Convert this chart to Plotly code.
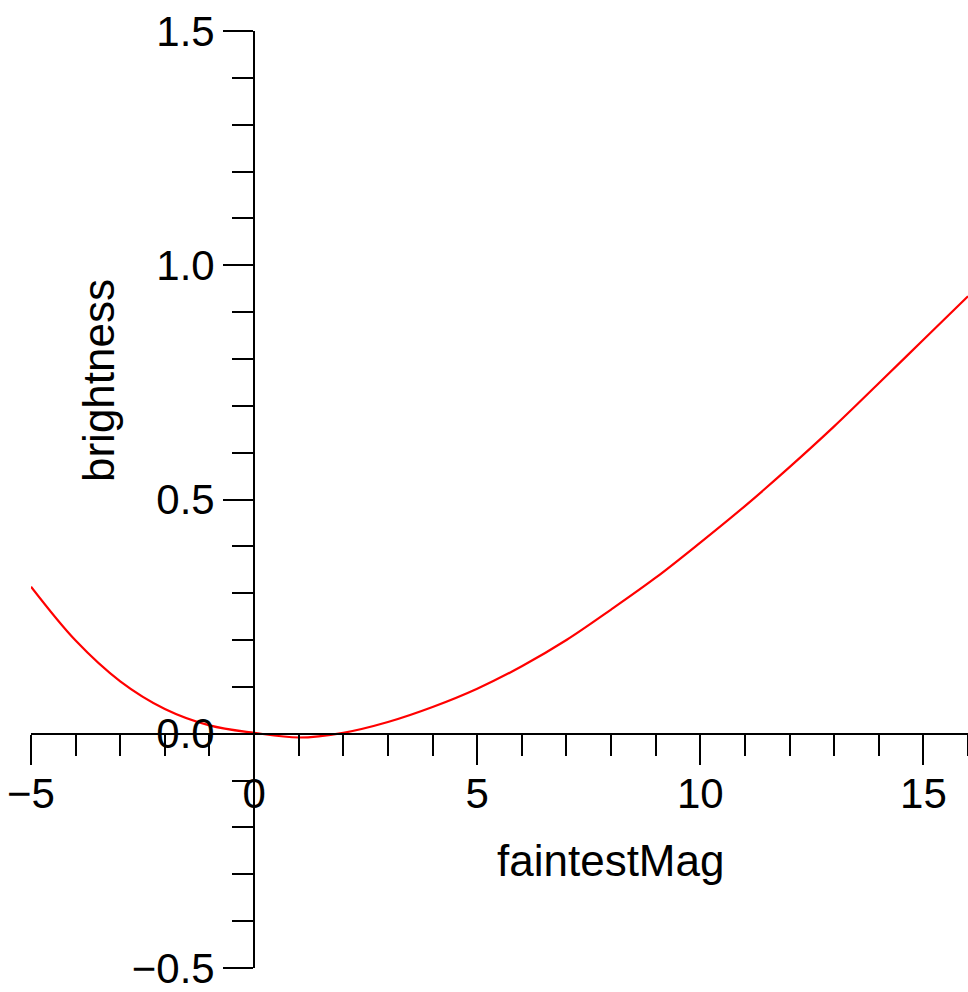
import plotly.graph_objects as go

# Data
faintest_mag = [-5, -4, -3, -2, -1, 0, 1, 2, 3, 4, 5, 6, 7, 8, 9, 10, 11, 12, 13, 14, 15, 16]
brightness = [0.314, 0.199, 0.112, 0.053, 0.018, 0.002, -0.008, 0.002, 0.025, 0.057,
              0.096, 0.144, 0.200, 0.265, 0.333, 0.408, 0.486, 0.569, 0.656, 0.748, 0.841, 0.934]

x_ticks = [-5, 0, 5, 10, 15]
x_labels = ["\u22125", "0", "5", "10", "15"]
y_ticks = [-0.5, 0.0, 0.5, 1.0, 1.5]
y_labels = ["\u22120.5", "0.0", "0.5", "1.0", "1.5"]

FONT = "Liberation Sans, Arial, sans-serif"

fig = go.Figure()
fig.add_trace(go.Scatter(
    x=faintest_mag, y=brightness, mode="lines",
    line=dict(color="#ff0000", width=2.2, shape="spline", smoothing=1.0),
    showlegend=False, hoverinfo="skip",
))

axis_common = dict(
    showline=True, linecolor="black", linewidth=2,
    ticks="outside", tickcolor="black", tickwidth=2, ticklen=30,
    showgrid=False, zeroline=False,
    tickfont=dict(family=FONT, size=42, color="black"),
    anchor="free",
)

fig.update_layout(
    width=968, height=992,
    margin=dict(l=31, r=0, t=31, b=24),
    paper_bgcolor="white", plot_bgcolor="white",
    xaxis=dict(
        range=[-5, 16], position=0.25,
        tickmode="array", tickvals=x_ticks, ticktext=x_labels,
        ticklabelstandoff=-7,
        minor=dict(dtick=1, tick0=0, ticks="outside", ticklen=21, tickwidth=2, tickcolor="black"),
        **axis_common,
    ),
    yaxis=dict(
        range=[-0.5, 1.5], position=5 / 21,
        tickmode="array", tickvals=y_ticks, ticktext=y_labels,
        minor=dict(dtick=0.1, tick0=0, ticks="outside", ticklen=21, tickwidth=2, tickcolor="black"),
        **axis_common,
    ),
    annotations=[
        dict(text="faintestMag", xref="paper", yref="paper",
             x=(610 - 31) / 937, y=(968 - 860) / 937, xanchor="center", yanchor="middle",
             showarrow=False, font=dict(family=FONT, size=44, color="black")),
        dict(text="brightness", xref="paper", yref="paper",
             x=(98 - 31) / 937, y=(968 - 381) / 937, xanchor="center", yanchor="middle",
             textangle=-90, showarrow=False, font=dict(family=FONT, size=44, color="black")),
    ],
)

fig.write_html(
    "out.html",
    config={"displayModeBar": False},
    post_script="document.body.style.margin='0';document.body.style.overflow='hidden';",
)
